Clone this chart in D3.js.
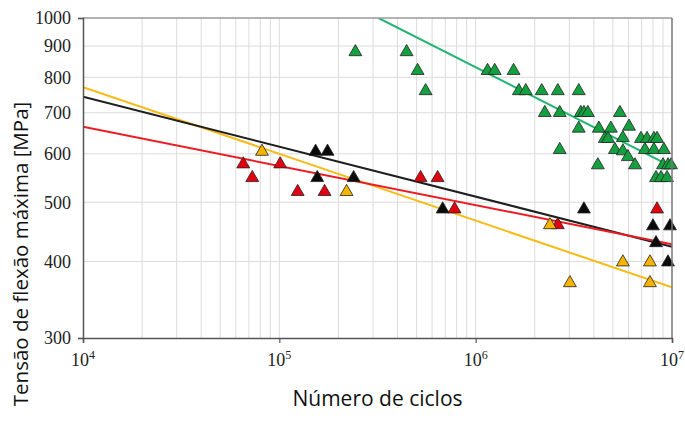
<!DOCTYPE html>
<meta charset="utf-8">
<style>
body { margin: 0; background: #fff; }
.grid line { stroke: #dcdcdc; stroke-width: 1px; }
.fit { fill: none; stroke-width: 2px; }
.tick text { font-family: "Liberation Serif", serif; font-size: 18px; fill: #222; }
.title { font-family: "Open Sans", sans-serif; font-size: 21px; fill: #111; }
</style>
<svg width="685" height="421"></svg>
<script src="https://cdn.jsdelivr.net/npm/d3@7"></script>
<script>

// fatigue data: [cycles, stress MPa]
var greenPts = [
  [2.44e5, 880], [4.45e5, 880], [5.06e5, 820], [5.56e5, 760],
  [1.15e6, 820], [1.25e6, 820], [1.56e6, 820],
  [1.66e6, 760], [1.80e6, 760], [2.17e6, 760], [2.62e6, 760], [3.35e6, 760],
  [2.25e6, 700], [2.68e6, 700], [3.43e6, 700], [3.56e6, 700], [3.73e6, 700], [5.43e6, 700],
  [3.35e6, 660], [4.24e6, 660], [4.88e6, 660], [6.04e6, 665],
  [4.55e6, 635], [4.72e6, 635], [5.62e6, 637], [6.95e6, 635], [7.46e6, 635], [8.09e6, 635], [8.39e6, 635],
  [2.68e6, 609], [5.12e6, 609], [5.62e6, 606], [5.96e6, 593], [7.28e6, 609], [8.09e6, 609], [9.10e6, 609],
  [4.19e6, 575], [6.48e6, 575], [9.00e6, 575], [9.54e6, 575], [9.88e6, 575],
  [8.29e6, 548], [8.79e6, 548], [9.43e6, 548]
];
var blackPts = [
  [1.53e5, 605], [1.76e5, 605], [1.56e5, 548], [2.39e5, 548],
  [6.79e5, 487], [3.56e6, 487], [8.0e6, 457], [9.77e6, 457],
  [8.29e6, 429], [9.54e6, 399]
];
var redPts = [
  [6.55e4, 577], [1.01e5, 577], [7.28e4, 548], [1.24e5, 520], [1.70e5, 520],
  [5.24e5, 548], [6.40e5, 548], [7.81e5, 487], [2.62e6, 459], [8.39e6, 487]
];
var yellowPts = [
  [8.16e4, 605], [2.20e5, 520], [2.39e6, 459], [3.02e6, 369],
  [5.62e6, 399], [7.72e6, 399], [7.72e6, 369]
];

// regression lines, two end points each
var greenFit = [[3.2e5, 1000], [1e7, 571]];
var blackFit = [[1e4, 744], [1e7, 423]];
var redFit = [[1e4, 664], [1e7, 427]];
var yellowFit = [[1e4, 771], [1e7, 363]];

var xMajor = [1e4, 1e5, 1e6, 1e7];
var xExp = ["4", "5", "6", "7"];
var yTicks = [300, 400, 500, 600, 700, 800, 900, 1000];

var svg = d3.select("svg"),
    margin = {top: 18, right: 13, bottom: 83, left: 83},
    width = svg.attr("width") - margin.left - margin.right,
    height = svg.attr("height") - margin.top - margin.bottom,
    g = svg.append("g").attr("transform", "translate(" + margin.left + "," + margin.top + ")");

var x = d3.scaleLog().domain([1e4, 1e7]).range([0, width]),
    y = d3.scaleLog().domain([300, 1000]).range([height, 0]);

// minor grid on x: 2..9 of each decade
var xGrid = [];
[1e4, 1e5, 1e6].forEach(function(d) {
  for (var k = 1; k < 10; ++k) if (d * k > 1e4) xGrid.push(d * k);
});

var grid = g.append("g").attr("class", "grid");
grid.selectAll(".gx").data(xGrid).enter().append("line")
    .attr("x1", function(d) { return x(d); })
    .attr("x2", function(d) { return x(d); })
    .attr("y1", 0).attr("y2", height);
grid.selectAll(".gy").data(yTicks.slice(1, -1)).enter().append("line")
    .attr("y1", function(d) { return y(d); })
    .attr("y2", function(d) { return y(d); })
    .attr("x1", 0).attr("x2", width);

svg.append("clipPath").attr("id", "clip")
  .append("rect").attr("width", width).attr("height", height);

var line = d3.line()
    .x(function(d) { return x(d[0]); })
    .y(function(d) { return y(d[1]); });

var fits = [
  {pts: greenFit, color: "#22b573"},
  {pts: yellowFit, color: "#f7bb14"},
  {pts: blackFit, color: "#1e1e1e"},
  {pts: redFit, color: "#ec1c24"}
];

g.append("g").attr("clip-path", "url(#clip)")
  .selectAll("path").data(fits).enter().append("path")
    .attr("class", "fit")
    .attr("d", function(d) { return line(d.pts); })
    .style("stroke", function(d) { return d.color; });

var tri = d3.symbol().type(d3.symbolTriangle).size(72);

var series = [
  {pts: greenPts, fill: "#15a040"},
  {pts: redPts, fill: "#e3000f"},
  {pts: yellowPts, fill: "#f5b400"},
  {pts: blackPts, fill: "#0a0a0a"}
];

series.forEach(function(s) {
  g.append("g").selectAll("path").data(s.pts).enter().append("path")
      .attr("d", tri)
      .attr("transform", function(d) { return "translate(" + x(d[0]) + "," + y(d[1]) + ")"; })
      .style("fill", s.fill)
      .style("stroke", "#222")
      .style("stroke-width", 0.8);
});

// frame
g.append("line").attr("x1", 0).attr("x2", width).attr("y1", 0).attr("y2", 0)
    .style("stroke", "#9a9a9a").style("stroke-width", 1.5);
g.append("line").attr("x1", width).attr("x2", width).attr("y1", 0).attr("y2", height)
    .style("stroke", "#777").style("stroke-width", 1.5);

// axes
var yAxis = g.append("g")
    .call(d3.axisLeft(y).tickValues([300, 1000]).tickSize(5).tickFormat(""));
var xAxis = g.append("g")
    .attr("transform", "translate(0," + height + ")")
    .call(d3.axisBottom(x).tickValues(xMajor).tickSize(5).tickFormat(""));
[yAxis, xAxis].forEach(function(a) {
  a.select(".domain").style("stroke", "#555").style("stroke-width", 1.5);
  a.selectAll(".tick line").style("stroke", "#555").style("stroke-width", 1.2);
});

g.append("g").attr("class", "tick").selectAll("text").data(yTicks).enter().append("text")
    .attr("x", -12)
    .attr("y", function(d) { return y(d); })
    .attr("dy", "0.35em")
    .attr("text-anchor", "end")
    .text(function(d) { return d; });

var xl = g.append("g").attr("class", "tick").selectAll("text").data(xMajor).enter().append("text")
    .attr("x", function(d) { return x(d); })
    .attr("y", height + 28)
    .attr("text-anchor", "middle");
xl.append("tspan").text("10");
xl.append("tspan")
    .attr("dy", -7)
    .style("font-size", "12px")
    .text(function(d, i) { return xExp[i]; });

svg.append("text")
    .attr("class", "title")
    .attr("x", margin.left + width / 2)
    .attr("y", 406)
    .attr("text-anchor", "middle")
    .text("Número de ciclos");

svg.append("text")
    .attr("class", "title")
    .attr("transform", "translate(28,254) rotate(-90)")
    .style("font-size", "20.5px")
    .attr("text-anchor", "middle")
    .text("Tensão de flexão máxima [MPa]");

</script>
